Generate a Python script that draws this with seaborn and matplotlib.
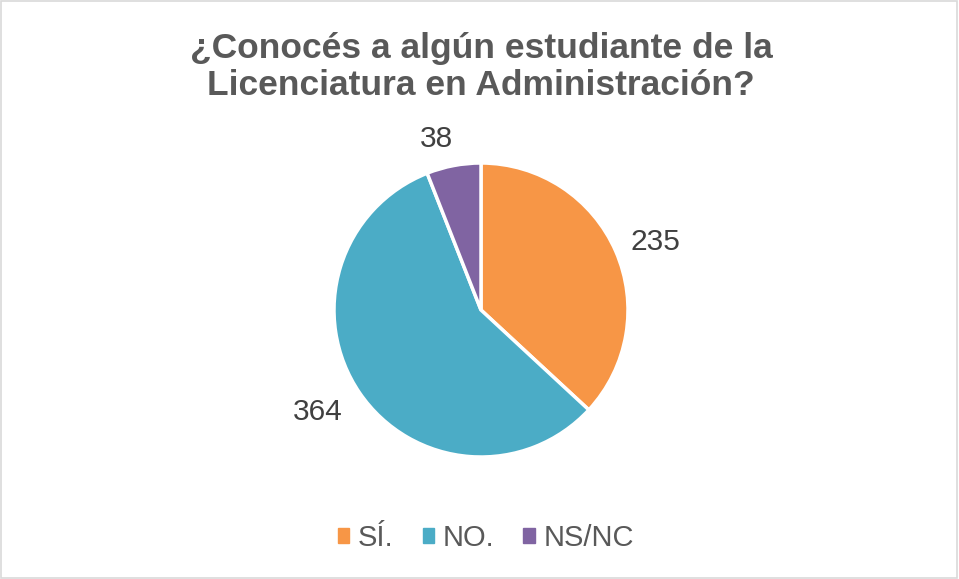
import matplotlib
matplotlib.use("Agg")
import numpy as np
import matplotlib.pyplot as plt
import seaborn as sns
from matplotlib.patches import Rectangle

sns.set_theme(style="white")
plt.rcParams["font.family"] = ["Liberation Sans", "DejaVu Sans"]

# ---------- data ----------------------------------------------------------
categories = ["SÍ.", "NO.", "NS/NC"]
counts = [235, 364, 38]
colors = sns.color_palette(["#F79646", "#4BACC6", "#8064A2"])
title = "¿Conocés a algún estudiante de la\nLicenciatura en Administración?"
TEXT = "#595959"

# label placement tweaks (Excel "best fit" style)
label_dist = [1.27, 1.31, 1.2]
label_turn = [-2.3, -2.3, 4.0]   # degrees, counter-clockwise

fig = plt.figure(figsize=(9.59, 5.79), dpi=100)

# pie axes: centre at (481, 310) px, radius 147 px
L = 1.6
size_px = 2 * 147 * L
ax = fig.add_axes([(481 - size_px / 2) / 959, (269 - size_px / 2) / 579,
                   size_px / 959, size_px / 579])
wedges, texts = ax.pie(counts, labels=[str(c) for c in counts], colors=colors,
                       startangle=90, counterclock=False,
                       wedgeprops=dict(edgecolor="white", linewidth=2.5),
                       textprops=dict(fontsize=21.5, color="#404040"))
for w, t, d, turn in zip(wedges, texts, label_dist, label_turn):
    ang = np.deg2rad((w.theta1 + w.theta2) / 2 + turn)
    t.set_position((d * np.cos(ang), d * np.sin(ang)))
    t.set_horizontalalignment("center")
    t.set_verticalalignment("center")
ax.set_xlim(-L, L)
ax.set_ylim(-L, L)
ax.set_aspect("equal")
ax.axis("off")

fig.text(481 / 959, 1 - 67 / 579, title, ha="center", va="center",
         fontsize=25.5, fontweight="bold", color=TEXT, linespacing=1.17)

handles = [Rectangle((0, 0), 1, 1, color=c) for c in colors]
fig.legend(handles, categories, loc="center", bbox_to_anchor=(486 / 959, 1 - 538 / 579),
           ncol=3, frameon=False, fontsize=21, labelcolor=TEXT,
           handlelength=0.38, handleheight=0.38, handletextpad=0.3, columnspacing=1.0)

# light grey chart border
fig.add_artist(Rectangle((0.001, 0.002), 0.997, 0.996, transform=fig.transFigure,
                         fill=False, edgecolor="#D9D9D9", linewidth=1.2))

fig.savefig("out.png", dpi=100)
